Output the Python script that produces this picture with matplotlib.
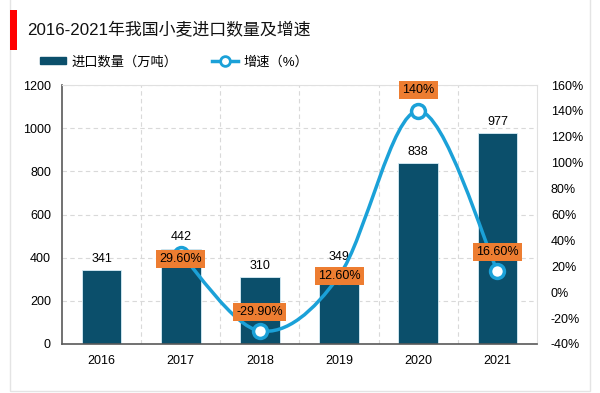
import numpy as np
import matplotlib
matplotlib.use("Agg")
import matplotlib.pyplot as plt
from matplotlib.path import Path
from matplotlib.patches import PathPatch, Rectangle
from matplotlib.lines import Line2D

plt.rcParams['font.family'] = ['Liberation Sans', 'Noto Sans CJK SC']
plt.rcParams['font.size'] = 9

years = ["2016", "2017", "2018", "2019", "2020", "2021"]
volume = [341, 442, 310, 349, 838, 977]
growth = [29.6, -29.9, 12.6, 140, 16.6]   # 2017-2021
growth_labels = ["29.60%", "-29.90%", "12.60%", "140%", "16.60%"]
label_offsets = [-5, 19, 0, 21, 19]   # px above the marker

bar_color = "#0b4f6b"
line_color = "#1ba1d8"
orange = "#ed7d31"

fig = plt.figure(figsize=(6, 3.93), dpi=100)

# outer frame and red title marker
fig.patches.append(Rectangle((10/600, 2/393), 580/600, 1.2, transform=fig.transFigure,
                             fill=False, edgecolor="#e4e4e4", lw=1))
fig.patches.append(Rectangle((10/600, 1-50/393), 7/600, 40/393, transform=fig.transFigure,
                             color="#ff0000", lw=0))
fig.text(27/600, 1-30/393, "2016-2021年我国小麦进口数量及增速", fontsize=12.2,
         va="center", ha="left", color="#111111")

ax = fig.add_axes([62/600, 1-344/393, 475/600, 259/393])
x = np.arange(len(years))
bars = ax.bar(x, volume, width=0.5, color=bar_color, edgecolor="#d8eef7", lw=0.6, zorder=2)
for xi, v in zip(x, volume):
    ax.annotate(str(v), (xi, v), xytext=(0, 4), textcoords="offset points",
                ha="center", va="bottom", fontsize=9, zorder=3)

ax.set_xlim(-0.5, len(years) - 0.5)
ax.set_ylim(0, 1200)
ax.set_yticks(np.arange(0, 1201, 200))
ax.set_xticks(x)
ax.set_xticklabels(years)
ax.set_xticks(x[:-1] + 0.5, minor=True)
ax.grid(axis="y", which="major", ls=(0, (4, 3)), color="#d9d9d9", lw=0.8, zorder=0)
ax.grid(axis="x", which="minor", ls=(0, (4, 3)), color="#d9d9d9", lw=0.8, zorder=0)
ax.tick_params(which="both", length=0)
ax.tick_params(axis="x", pad=8)
ax.tick_params(axis="y", pad=8)
ax.spines["left"].set_color("#595959")
ax.spines["bottom"].set_color("#595959")
ax.spines["left"].set_linewidth(1.2)
ax.spines["bottom"].set_linewidth(1.2)
ax.spines["top"].set_color("#e0e0e0")
ax.spines["right"].set_color("#e0e0e0")

ax2 = ax.twinx()
ax2.set_ylim(-40, 160)
ax2.set_yticks(np.arange(-40, 161, 20))
ax2.set_yticklabels([f"{t}%" for t in range(-40, 161, 20)])
ax2.tick_params(length=0, pad=10)
for s in ax2.spines.values():
    s.set_visible(False)

# smoothed line (Catmull-Rom as cubic Bezier)
gx = x[1:].astype(float)
gy = np.array(growth, dtype=float)
pts = np.column_stack([gx, gy])
ext = np.vstack([pts[0], pts, pts[-1]])
verts = [tuple(pts[0])]
codes = [Path.MOVETO]
for i in range(len(pts) - 1):
    p0, p1, p2, p3 = ext[i], ext[i + 1], ext[i + 2], ext[i + 3]
    c1 = p1 + (p2 - p0) / 6
    c2 = p2 - (p3 - p1) / 6
    verts += [tuple(c1), tuple(c2), tuple(p2)]
    codes += [Path.CURVE4] * 3
ax2.add_patch(PathPatch(Path(verts, codes), fill=False, edgecolor=line_color, lw=2.5, zorder=3))
ax2.plot(gx, gy, ls="none", marker="o", ms=10, mfc="white", mec=line_color, mew=2.5, zorder=4)

for xi, yi, lab, off in zip(gx, gy, growth_labels, label_offsets):
    ax2.annotate(lab, (xi, yi), xytext=(0, off * 0.72), textcoords="offset points",
                 ha="center", va="center", fontsize=9, zorder=5,
                 bbox=dict(boxstyle="square,pad=0.25", fc=orange, ec="none"))

handles = [Rectangle((0, 0), 1, 1, color=bar_color),
           Line2D([0], [0], color=line_color, lw=2.5, marker="o", ms=7,
                  mfc="white", mec=line_color, mew=2)]
fig.legend(handles, ["进口数量（万吨）", "增速（%）"], loc="center left",
           bbox_to_anchor=(28/600, 1-62/393), ncol=2, frameon=False, fontsize=9.5,
           handlelength=2.0, handleheight=0.5, columnspacing=2.6, handletextpad=0.4)

fig.savefig("out.png", dpi=100)
